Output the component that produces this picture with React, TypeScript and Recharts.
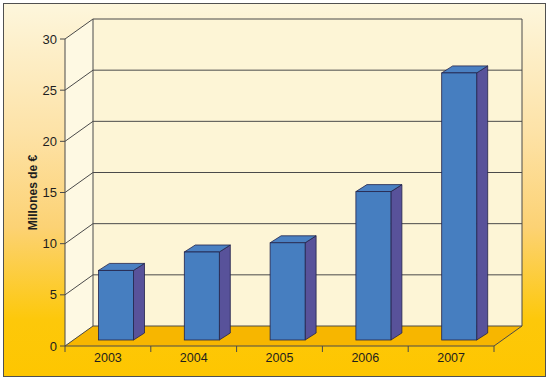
import React from 'react';
import { BarChart, Bar, XAxis, YAxis, CartesianGrid } from 'recharts';

const years = ['2003', '2004', '2005', '2006', '2007'];
const millions = [6.8, 8.6, 9.5, 14.5, 26.1];
const yTicks = [0, 5, 10, 15, 20, 25, 30];

const data = years.map((year, i) => ({ year, value: millions[i] }));

// depth of the 3D box (front plane -> back wall)
const DX = 28;
const DY = -20;
// bar sits in the middle of the depth
const BAR_SHIFT_X = 8.5;
const BAR_SHIFT_Y = -6;
const BAR_DX = 11;
const BAR_DY = -7;

const PLOT_BOTTOM = 346;
const LINE = '#4a4a4a';
const FONT = '"Liberation Sans", Arial, sans-serif';

const gridLine = (props: any) => {
    const { x1, x2, y1, index } = props;
    const top = props.y ?? 39;
    const bottom = top + (props.height ?? 307);
    return (
        <g key={`g-${index}`}>
            {index === 0 && (
                <g>
                    <polygon
                        points={`${x1},${top} ${x1 + DX},${top + DY} ${x1 + DX},${bottom + DY} ${x1},${bottom}`}
                        fill="#fef9e3"
                    />
                    <rect x={x1 + DX} y={top + DY} width={x2 - x1} height={bottom - top} fill="#fdf5d6" />
                    <polygon
                        points={`${x1},${bottom} ${x1 + DX},${bottom + DY} ${x2 + DX},${bottom + DY} ${x2},${bottom}`}
                        fill="#f7b600"
                    />
                    <line x1={x1 + DX} y1={top + DY} x2={x1 + DX} y2={bottom + DY} stroke={LINE} />
                    <line x1={x2 + DX} y1={top + DY} x2={x2 + DX} y2={bottom + DY} stroke={LINE} />
                    <line x1={x2} y1={bottom} x2={x2 + DX} y2={bottom + DY} stroke={LINE} />
                </g>
            )}
            <line x1={x1} y1={y1} x2={x1 + DX} y2={y1 + DY} stroke={LINE} />
            <line x1={x1 + DX} y1={y1 + DY} x2={x2 + DX} y2={y1 + DY} stroke={LINE} />
        </g>
    );
};

const Box3D = (props: any) => {
    const { x, y, width, height } = props;
    if (height == null || width == null) return null;
    const fx = x + BAR_SHIFT_X;
    const fy = y + BAR_SHIFT_Y;
    const edge = '#23234a';
    return (
        <g>
            <polygon
                points={`${fx + width},${fy} ${fx + width + BAR_DX},${fy + BAR_DY} ${fx + width + BAR_DX},${fy + height + BAR_DY} ${fx + width},${fy + height}`}
                fill="#58529a"
                stroke={edge}
                strokeWidth={0.8}
            />
            <polygon
                points={`${fx},${fy} ${fx + BAR_DX},${fy + BAR_DY} ${fx + width + BAR_DX},${fy + BAR_DY} ${fx + width},${fy}`}
                fill="#4a80c2"
                stroke={edge}
                strokeWidth={0.8}
            />
            <rect x={fx} y={fy} width={width} height={height} fill="#467ec0" stroke={edge} strokeWidth={0.8} />
        </g>
    );
};

const XTick = (props: any) => {
    const { x, payload, index } = props;
    const band = (494 - 65) / years.length;
    const left = x - band / 2;
    return (
        <g>
            <line x1={left} y1={PLOT_BOTTOM} x2={left} y2={PLOT_BOTTOM + 6} stroke={LINE} />
            {index === years.length - 1 && (
                <line x1={left + band} y1={PLOT_BOTTOM} x2={left + band} y2={PLOT_BOTTOM + 6} stroke={LINE} />
            )}
            <text x={x} y={362} textAnchor="middle" fontSize={12.5} fill="#1e1e1e" fontFamily={FONT}>
                {payload.value}
            </text>
        </g>
    );
};

const YLabel = (props: any) => {
    const vb = props.viewBox || { x: 0, y: 39, width: 65, height: 307 };
    const cx = vb.x + 37;
    const cy = vb.y + vb.height / 2;
    return (
        <text
            transform={`translate(${cx},${cy}) rotate(-90)`}
            textAnchor="middle"
            fontSize={12}
            fontWeight="bold"
            fill="#1e1e1e"
            fontFamily={FONT}
        >
            Millones de €
        </text>
    );
};

export default function App() {
    return (
        <div style={{ width: 550, height: 381, position: 'relative', background: '#fff' }}>
            <style>{`body{margin:0}`}</style>
            <div
                style={{
                    position: 'absolute',
                    left: 3,
                    top: 3,
                    width: 541,
                    height: 372,
                    border: '1px solid #505050',
                    background: 'linear-gradient(180deg, #fdf6dc 0%, #fde2a6 35%, #fcd274 60%, #fdc80a 85%, #fec600 100%)',
                }}
            />
            <div style={{ position: 'absolute', left: 0, top: 0 }}>
                <BarChart
                    width={550}
                    height={381}
                    data={data}
                    margin={{ top: 39, right: 56, bottom: 5, left: 0 }}
                    barCategoryGap={0}
                >
                    <CartesianGrid horizontal={gridLine} vertical={false} />
                    <XAxis
                        dataKey="year"
                        height={30}
                        axisLine={{ stroke: LINE }}
                        tickLine={false}
                        tick={<XTick />}
                        interval={0}
                    />
                    <YAxis
                        width={65}
                        domain={[0, 30]}
                        ticks={yTicks}
                        interval={0}
                        axisLine={{ stroke: LINE }}
                        tickLine={{ stroke: LINE }}
                        tickSize={5}
                        tickMargin={3}
                        tick={{ fontSize: 13, fill: '#1e1e1e', fontFamily: FONT }}
                        label={{ content: (p: any) => <YLabel {...p} /> }}
                    />
                    <Bar dataKey="value" barSize={35} shape={<Box3D />} isAnimationActive={false} />
                </BarChart>
            </div>
        </div>
    );
}
